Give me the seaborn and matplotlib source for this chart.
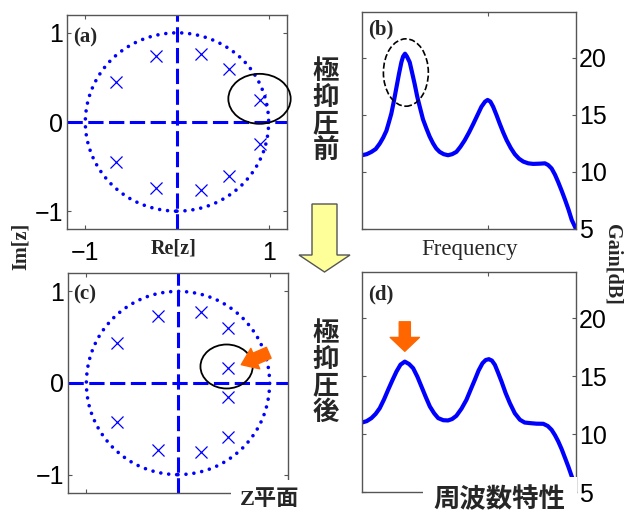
import numpy as np
import pandas as pd
import matplotlib
matplotlib.use('Agg')
import matplotlib.pyplot as plt
import seaborn as sns
from matplotlib.patches import Ellipse, Circle, FancyArrow, Rectangle

# ---- data ----
# poles in the z-plane, before / after suppression
pole_re_before = [-0.67, -0.23, 0.26, 0.57, 0.90, 0.90, 0.57, 0.26, -0.23, -0.67]
pole_im_before = [0.45, 0.74, 0.76, 0.60, 0.25, -0.25, -0.60, -0.76, -0.74, -0.45]
pole_re_after = [-0.67, -0.22, 0.25, 0.55, 0.55, 0.55, 0.55, 0.25, -0.22, -0.67]
pole_im_after = [0.44, 0.73, 0.77, 0.60, 0.16, -0.15, -0.59, -0.75, -0.73, -0.43]

# frequency response (normalised frequency axis), gain in dB
freq_before = [0.0, 0.022, 0.044, 0.064, 0.083, 0.099, 0.114, 0.125, 0.137, 0.149,
               0.161, 0.173, 0.184, 0.192, 0.201, 0.210, 0.223, 0.234, 0.246, 0.258,
               0.270, 0.285, 0.301, 0.316, 0.332, 0.347, 0.363, 0.382, 0.402, 0.421,
               0.441, 0.460, 0.480, 0.500, 0.520, 0.539, 0.558, 0.575, 0.587, 0.600,
               0.613, 0.629, 0.644, 0.660, 0.676, 0.695, 0.714, 0.734, 0.754, 0.777,
               0.800, 0.830, 0.855, 0.870, 0.886, 0.902, 0.917, 0.933, 0.949, 0.965,
               0.980, 1.0]
gain_before = [11.46, 11.55, 11.75, 12.0, 12.48, 13.0, 13.6, 14.3, 15.1, 16.2,
               17.4, 18.6, 19.6, 20.1, 20.35, 20.1, 19.6, 18.7, 17.7, 16.6,
               15.7, 14.6, 13.8, 13.1, 12.5, 12.05, 11.75, 11.55, 11.46, 11.55,
               11.75, 12.2, 12.77, 13.45, 14.2, 14.95, 15.7, 16.15, 16.3, 16.15,
               15.7, 14.95, 14.2, 13.45, 12.77, 12.1, 11.55, 11.15, 10.9, 10.75,
               10.7, 10.72, 10.75, 10.6, 10.3, 9.75, 9.1, 8.35, 7.55, 6.7,
               5.8, 5.0]
freq_after = [0.0, 0.022, 0.044, 0.064, 0.083, 0.103, 0.122, 0.142, 0.161, 0.180,
              0.200, 0.220, 0.239, 0.259, 0.278, 0.298, 0.317, 0.337, 0.356, 0.380,
              0.402, 0.421, 0.441, 0.465, 0.488, 0.508, 0.527, 0.545, 0.563, 0.578,
              0.593, 0.607, 0.621, 0.636, 0.652, 0.671, 0.691, 0.714, 0.738, 0.760,
              0.785, 0.815, 0.847, 0.868, 0.886, 0.902, 0.917, 0.933, 0.949, 0.965,
              0.980, 1.0]
gain_after = [11.0, 11.12, 11.38, 11.75, 12.24, 13.0, 13.82, 14.65, 15.4, 16.0,
              16.26, 16.05, 15.69, 14.95, 14.1, 13.2, 12.39, 11.8, 11.38, 11.2,
              11.18, 11.3, 11.58, 12.2, 12.96, 13.85, 14.68, 15.5, 16.12, 16.4,
              16.47, 16.35, 15.98, 15.3, 14.54, 13.55, 12.67, 11.8, 11.24, 11.0,
              10.95, 10.9, 10.89, 10.7, 10.37, 9.9, 9.37, 8.7, 7.93, 7.15,
              6.35, 5.43]

z_ticks = [-1, 0, 1]
z_ticklabels = ['\u22121', '', '1']
gain_ticks = [5, 10, 15, 20]
freq_tick = [0.59]

sns.set_theme(style='white')
plt.rcParams['font.family'] = ['Liberation Sans', 'Noto Sans CJK JP', 'DejaVu Sans']
plt.rcParams['axes.unicode_minus'] = True

BLUE = '#0000FF'
ORANGE = '#FF6600'
SPINE = '#555555'
SERIF = ['Liberation Serif', 'DejaVu Serif']
CJK = ['Noto Sans CJK JP', 'DejaVu Sans']
W, H = 636, 513

fig = plt.figure(figsize=(6.36, 5.13), dpi=100)
fig.patch.set_facecolor('white')


def px_axes(x0, y0, x1, y1):
    return fig.add_axes([x0 / W, 1 - y1 / H, (x1 - x0) / W, (y1 - y0) / H])


def style(ax):
    for s in ax.spines.values():
        s.set_color(SPINE)
        s.set_linewidth(1.0)
    ax.tick_params(direction='in', length=3, width=0.8, color=SPINE,
                   top=True, right=True, left=True, bottom=True,
                   labelsize=18, labelcolor='black')
    ax.set_facecolor('white')


ax_a = px_axes(67, 15, 287, 229)
ax_c = px_axes(68, 273, 288, 493)
ax_b = px_axes(362, 12, 576, 229)
ax_d = px_axes(362, 272, 576, 492)

# ---- z-plane panels ----
for ax, pre, pim in [(ax_a, pole_re_before, pole_im_before),
                     (ax_c, pole_re_after, pole_im_after)]:
    style(ax)
    ax.axhline(0, color=BLUE, lw=2.2, dashes=(5, 1.8), zorder=2)
    ax.axvline(0, color=BLUE, lw=2.2, dashes=(5, 1.8), zorder=2)
    circ = Circle((0, 0), 1.0, fill=False, ec=BLUE, lw=2.6,
                  linestyle=(0, (0.01, 2.2)), capstyle='round', zorder=2)
    ax.add_patch(circ)
    df = pd.DataFrame({'re': pre, 'im': pim})
    sns.scatterplot(data=df, x='re', y='im', ax=ax, marker='x', s=75,
                    color=BLUE, linewidth=0.9, zorder=3)
    ax.set_xlim(-1.2, 1.2)
    ax.set_ylim(-1.2, 1.2)
    ax.set_xticks(z_ticks)
    ax.set_yticks(z_ticks)
    ax.set_yticklabels(['\u22121', '0', '1'])
    ax.set_xlabel('')
    ax.set_ylabel('')
    ax.tick_params(axis='y', pad=3)

ax_a.set_xticklabels(z_ticklabels)
ax_a.tick_params(axis='x', pad=9)
ax_c.tick_params(axis='x', labelbottom=False)

ax_a.add_patch(Ellipse((0.90, 0.26), 0.68, 0.56, fill=False, ec='black',
                       lw=1.3, clip_on=False, zorder=4))
ax_c.add_patch(Ellipse((0.53, 0.18), 0.57, 0.48, fill=False, ec='black',
                       lw=1.3, zorder=4))
ax_c.annotate('', xy=(0.69, 0.20), xytext=(0.99, 0.33),
              arrowprops=dict(arrowstyle='simple,head_length=1.1,head_width=1.6,tail_width=0.85',
                              mutation_scale=10, color=ORANGE, shrinkA=0, shrinkB=0),
              zorder=5, annotation_clip=False)

# ---- frequency response panels ----
for ax, fx, gy in [(ax_b, freq_before, gain_before), (ax_d, freq_after, gain_after)]:
    style(ax)
    df = pd.DataFrame({'f': fx, 'g': gy})
    sns.lineplot(data=df, x='f', y='g', ax=ax, color=BLUE, lw=3,
                 estimator=None, sort=False, solid_capstyle='round',
                 solid_joinstyle='round')
    ax.set_xlim(0, 1)
    ax.set_ylim(5, 24)
    ax.set_yticks(gain_ticks)
    ax.set_xticks(freq_tick)
    ax.tick_params(axis='y', labelleft=False, labelright=True, pad=2)
    ax.tick_params(axis='x', labelbottom=False)
    ax.set_xlabel('')
    ax.set_ylabel('')

ax_b.add_patch(Ellipse((0.205, 18.7), 0.21, 5.9, fill=False, ec='black',
                       lw=1.2, ls='--', zorder=4))
ax_d.annotate('', xy=(0.20, 17.15), xytext=(0.20, 19.7),
              arrowprops=dict(arrowstyle='simple,head_length=1.0,head_width=2.1,tail_width=0.8',
                              mutation_scale=10, color=ORANGE, shrinkA=0, shrinkB=0),
              zorder=5)

# ---- overlay for labels and the big arrow (pixel coordinates) ----
ov = fig.add_axes([0, 0, 1, 1], zorder=10)
ov.set_xlim(0, W)
ov.set_ylim(H, 0)
ov.axis('off')
ov.patch.set_alpha(0)

for lab, x, y in [('(a)', 73, 37), ('(b)', 368, 29), ('(c)', 73, 294), ('(d)', 368, 294)]:
    ov.text(x, y, lab, family=SERIF, weight='bold', fontsize=15, ha='left', va='center')

ov.text(174, 249, 'Re[z]', family=SERIF, weight='bold', fontsize=14.5, ha='center', va='center')
ov.text(21, 246, 'Im[z]', family=SERIF, weight='bold', fontsize=14.5, ha='center',
        va='center', rotation=90)
ov.text(613, 264, 'Gain[dB]', family=SERIF, weight='bold', fontsize=14.5, ha='center',
        va='center', rotation=270)
ov.text(470, 250, 'Frequency', family=SERIF, fontsize=16.5, ha='center', va='center')

ov.text(326, 111, '極\n抑\n圧\n前', family=CJK, weight='bold', fontsize=19,
        ha='center', va='center', linespacing=0.97)
ov.text(326, 373, '極\n抑\n圧\n後', family=CJK, weight='bold', fontsize=19,
        ha='center', va='center', linespacing=0.97)

# white cut-outs at the bottom right corners of (c) and (d) behind the captions
ov.add_patch(Rectangle((231, 480), 80, 40, fc='white', ec='none'))
ov.add_patch(Rectangle((423, 477), 154, 40, fc='white', ec='none'))
ov.text(270, 500, 'Z平面', family=['Liberation Serif', 'Noto Sans CJK JP'], weight='bold',
        fontsize=16, ha='center', va='center')
ov.text(499, 500, '周波数特性', family=CJK, weight='bold', fontsize=19,
        ha='center', va='center')

ov.add_patch(FancyArrow(324.5, 204, 0, 68, width=25, head_width=51, head_length=17,
                        length_includes_head=True, fc='#FFFF99', ec='#555555', lw=1.0))

fig.savefig('out.png', dpi=100, facecolor='white')
